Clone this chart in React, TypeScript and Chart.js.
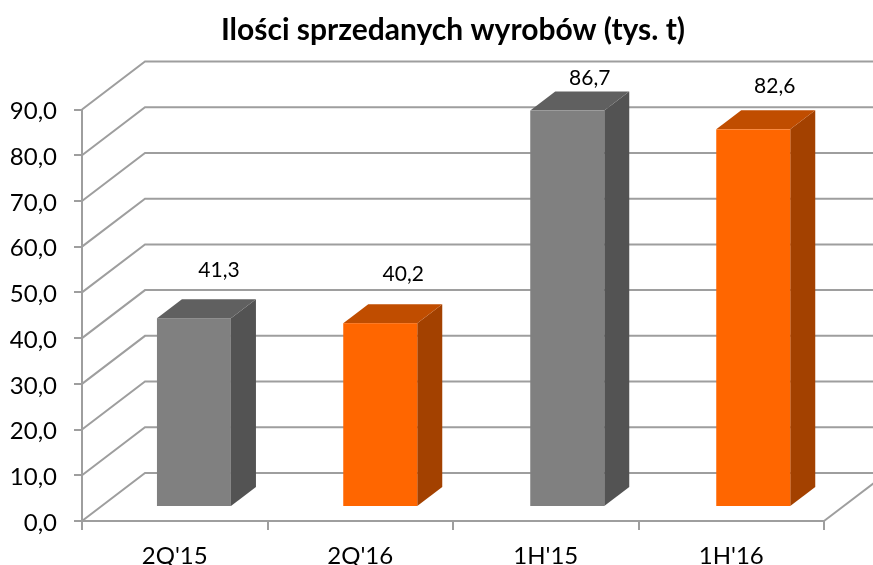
import React, { useEffect, useRef } from "react";
import { Chart, registerables } from "chart.js";

Chart.register(...registerables);

const categories = ["2Q'15", "2Q'16", "1H'15", "1H'16"];
const values = [41.3, 40.2, 86.7, 82.6];
const titleText = "Ilości sprzedanych wyrobów (tys. t)";
const yTicks = [0, 10, 20, 30, 40, 50, 60, 70, 80, 90];

const frontColors = ["#808080", "#FF6600", "#808080", "#FF6600"];
const sideColors = ["#535353", "#A34100", "#535353", "#A34100"];
const topColors = ["#606060", "#C04D00", "#606060", "#C04D00"];

const FONT = "Lato, Carlito, sans-serif";
const GRID = "#9E9E9E";
const WALL_DX = 63;
const WALL_DY = -48;
const barDX = [19.2, 20, 21.5, 22];
const BAR_DY = -14;
const SIDE_DX = 25;
const SIDE_DY = -19;
const labelDX = [25, 23, 22.5, 21.5];
const labelDY = [-47.5, -48.5, -32.5, -43.5];

const fmt = (v: number) => v.toFixed(1).replace(".", ",");

const walls = {
  id: "walls",
  beforeDatasetsDraw(chart: any) {
    const { ctx, chartArea, scales } = chart;
    const y = scales.y;
    ctx.save();
    ctx.strokeStyle = GRID;
    ctx.lineWidth = 2;
    ctx.lineJoin = "miter";
    yTicks.forEach((t) => {
      const py = y.getPixelForValue(t);
      ctx.beginPath();
      ctx.moveTo(chartArea.left, py);
      ctx.lineTo(chartArea.left + WALL_DX, py + WALL_DY);
      ctx.lineTo(chartArea.right + WALL_DX, py + WALL_DY);
      ctx.stroke();
    });
    const py0 = y.getPixelForValue(0);
    ctx.beginPath();
    ctx.moveTo(chartArea.right, py0);
    ctx.lineTo(chartArea.right + WALL_DX, py0 + WALL_DY);
    ctx.stroke();
    ctx.restore();
  },
  afterDatasetsDraw(chart: any) {
    const { ctx } = chart;
    const meta = chart.getDatasetMeta(0);
    ctx.save();
    ctx.fillStyle = "#000";
    ctx.font = `21px ${FONT}`;
    ctx.textAlign = "center";
    ctx.textBaseline = "middle";
    meta.data.forEach((el: any, i: number) => {
      ctx.fillText(fmt(values[i]), el.x + barDX[i] + labelDX[i], el.y + BAR_DY + labelDY[i]);
    });
    ctx.restore();
  },
};

// Shift each bar back into the 3D box and draw its side and top faces.
const shiftedBars = {
  id: "shiftedBars",
  beforeDatasetDraw(chart: any, args: any) {
    const { ctx } = chart;
    const meta = args.meta;
    meta.data.forEach((el: any, i: number) => {
      const l = el.x + barDX[i] - el.width / 2;
      const r = el.x + barDX[i] + el.width / 2;
      const t = el.y + BAR_DY;
      const b = el.base + BAR_DY;
      ctx.fillStyle = sideColors[i];
      ctx.beginPath();
      ctx.moveTo(r, t);
      ctx.lineTo(r + SIDE_DX, t + SIDE_DY);
      ctx.lineTo(r + SIDE_DX, b + SIDE_DY);
      ctx.lineTo(r, b);
      ctx.closePath();
      ctx.fill();
      ctx.fillStyle = topColors[i];
      ctx.beginPath();
      ctx.moveTo(l, t);
      ctx.lineTo(l + SIDE_DX, t + SIDE_DY);
      ctx.lineTo(r + SIDE_DX, t + SIDE_DY);
      ctx.lineTo(r, t);
      ctx.closePath();
      ctx.fill();
      ctx.fillStyle = frontColors[i];
      ctx.fillRect(l, t, r - l, b - t);
    });
    return false;
  },
};

export default function App() {
  const ref = useRef<HTMLCanvasElement>(null);
  useEffect(() => {
    const chart = new Chart(ref.current!, {
      type: "bar",
      data: {
        labels: categories,
        datasets: [
          {
            data: values,
            backgroundColor: frontColors,
            borderWidth: 0,
            barThickness: 74,
            clip: false as any,
          },
        ],
      },
      options: {
        responsive: false,
        animation: false,
        layout: { padding: { top: 0, right: 49, bottom: 0, left: 0 } },
        plugins: {
          legend: { display: false },
          tooltip: { enabled: false },
          title: {
            display: true,
            text: titleText,
            fullSize: false,
            color: "#000",
            font: { family: FONT, size: 30, weight: "bold", lineHeight: 1.2 },
            padding: { top: 12, bottom: 61.5 },
          },
        },
        scales: {
          x: {
            afterFit(s: any) {
              s.height = 44;
            },
            grid: {
              offset: true,
              drawOnChartArea: false,
              drawTicks: true,
              tickLength: 9,
              color: GRID,
              lineWidth: 2,
            },
            border: { color: GRID, width: 2 },
            ticks: { color: "#000", font: { family: FONT, size: 24 }, padding: 12, maxRotation: 0 },
          },
          y: {
            min: 0,
            max: 90,
            afterFit(s: any) {
              s.width = 82;
            },
            afterBuildTicks(s: any) {
              s.ticks = yTicks.map((value) => ({ value }));
            },
            grid: {
              drawOnChartArea: false,
              drawTicks: true,
              tickLength: 8,
              color: GRID,
              lineWidth: 2,
            },
            border: { color: GRID, width: 2 },
            ticks: {
              color: "#000",
              font: { family: FONT, size: 24 },
              padding: 17,
              labelOffset: 2,
              callback: (v: any) => fmt(Number(v)),
            },
          },
        },
      },
      plugins: [walls, shiftedBars],
    } as any);
    return () => chart.destroy();
  }, []);
  return (
    <div style={{ position: "fixed", left: 0, top: 0, width: 873, height: 565, overflow: "hidden", background: "#fff" }}>
      <canvas ref={ref} width={873} height={565} style={{ display: "block" }} />
    </div>
  );
}
